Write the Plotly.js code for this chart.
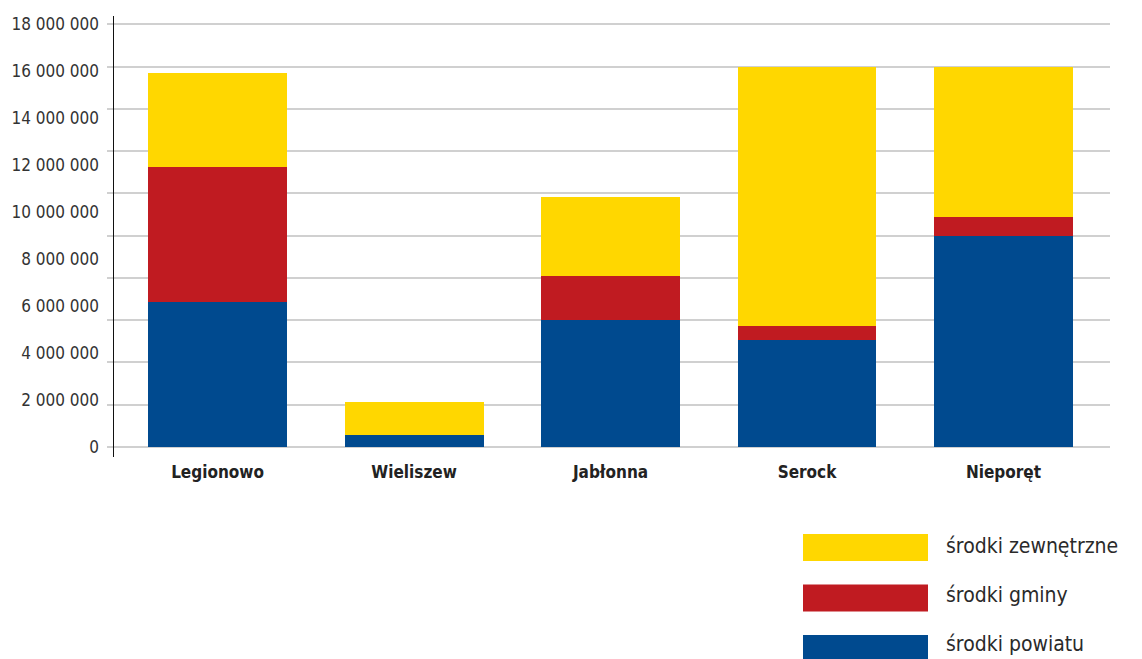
<!DOCTYPE html>
<html>
<head>
<meta charset="utf-8">
<script src="https://cdn.plot.ly/plotly-3.0.1.min.js"></script>
<style>html,body{margin:0;padding:0;background:#fff;}#chart{width:1142px;height:659px;}</style>
</head>
<body>
<div id="chart"></div>
<script>
const categories = ["Legionowo", "Wieliszew", "Jabłonna", "Serock", "Nieporęt"];
const seriesNames = ["środki powiatu", "środki gminy", "środki zewnętrzne"];
const srodkiPowiatu = [6190000, 510000, 5410000, 4560000, 8990000];
const srodkiGminy = [5750000, 0, 1870000, 590000, 790000];
const srodkiZewnetrzne = [4000000, 1390000, 3370000, 11030000, 6400000];
const yTickVals = [0, 2000000, 4000000, 6000000, 8000000, 10000000, 12000000, 14000000, 16000000, 18000000];
const yTickText = ["0", "2 000 000", "4 000 000", "6 000 000", "8 000 000", "10 000 000", "12 000 000", "14 000 000", "16 000 000", "18 000 000"];
const colors = ["#004a8f", "#c01b21", "#ffd700"];

const FONT = "Liberation Sans Narrow, DejaVu Sans Condensed, Arial Narrow, sans-serif";
const W = 1142, H = 659, ML = 114, MR = 32, MT = 16, MB = 202;
const PW = W - ML - MR, PH = H - MT - MB;
const pxX = p => (p - ML) / PW;
const pxY = p => (H - MB - p) / PH;
const yRange = [-426000, 18354000];

const values = [srodkiPowiatu, srodkiGminy, srodkiZewnetrzne];
const traces = values.map((v, i) => ({
  type: "bar", x: categories, y: v, name: seriesNames[i],
  marker: {color: colors[i], line: {width: 0}},
  width: 0.707, showlegend: false, hoverinfo: "x+y+name"
}));
// invisible helper trace so the overlaid label axis (yaxis2) is drawn
traces.push({type: "scatter", mode: "markers", x: categories, y: srodkiPowiatu, yaxis: "y2",
  marker: {opacity: 0, size: 1}, showlegend: false, hoverinfo: "skip"});

// legend drawn as swatches + text (top to bottom: zewnętrzne, gminy, powiatu)
const legendOrder = [2, 1, 0];
const shapes = [], annotations = [];
legendOrder.forEach((si, k) => {
  const top = 534 + k * 50.5, bot = top + 27;
  shapes.push({type: "rect", xref: "paper", yref: "paper",
    x0: pxX(803), x1: pxX(928), y0: pxY(bot), y1: pxY(top),
    fillcolor: colors[si], line: {width: 0}});
  annotations.push({xref: "paper", yref: "paper", x: pxX(944), y: pxY(546 + k * 49),
    xanchor: "left", yanchor: "middle", showarrow: false, text: seriesNames[si],
    font: {family: FONT, size: 21, color: "#2a2a2a"}});
});

const layout = {
  width: W, height: H,
  margin: {l: ML, r: MR, t: MT, b: MB, pad: 0},
  paper_bgcolor: "#fff", plot_bgcolor: "#fff",
  barmode: "stack",
  showlegend: false,
  xaxis: {type: "category", range: [-0.527, 4.542], showgrid: false, zeroline: false, showline: false,
    ticks: "", tickfont: {family: FONT, size: 17, color: "#222", weight: "bold"}, ticklabelstandoff: 3},
  yaxis: {range: yRange, tick0: 0, dtick: 1800000, showgrid: true, gridcolor: "#d0d0d0", gridwidth: 2,
    ticks: "outside", ticklen: 6, tickcolor: "#d0d0d0", tickwidth: 2, showticklabels: false,
    showline: true, linecolor: "#111", linewidth: 1.5, zeroline: false},
  yaxis2: {overlaying: "y", side: "left", range: yRange, tickmode: "array", tickvals: yTickVals, ticktext: yTickText,
    showgrid: false, zeroline: false, showline: false, ticks: "", ticklabelstandoff: 14,
    tickfont: {family: FONT, size: 17, color: "#333"}},
  shapes: shapes, annotations: annotations
};

Plotly.newPlot("chart", traces, layout, {displayModeBar: false, staticPlot: true});
</script>
</body>
</html>
